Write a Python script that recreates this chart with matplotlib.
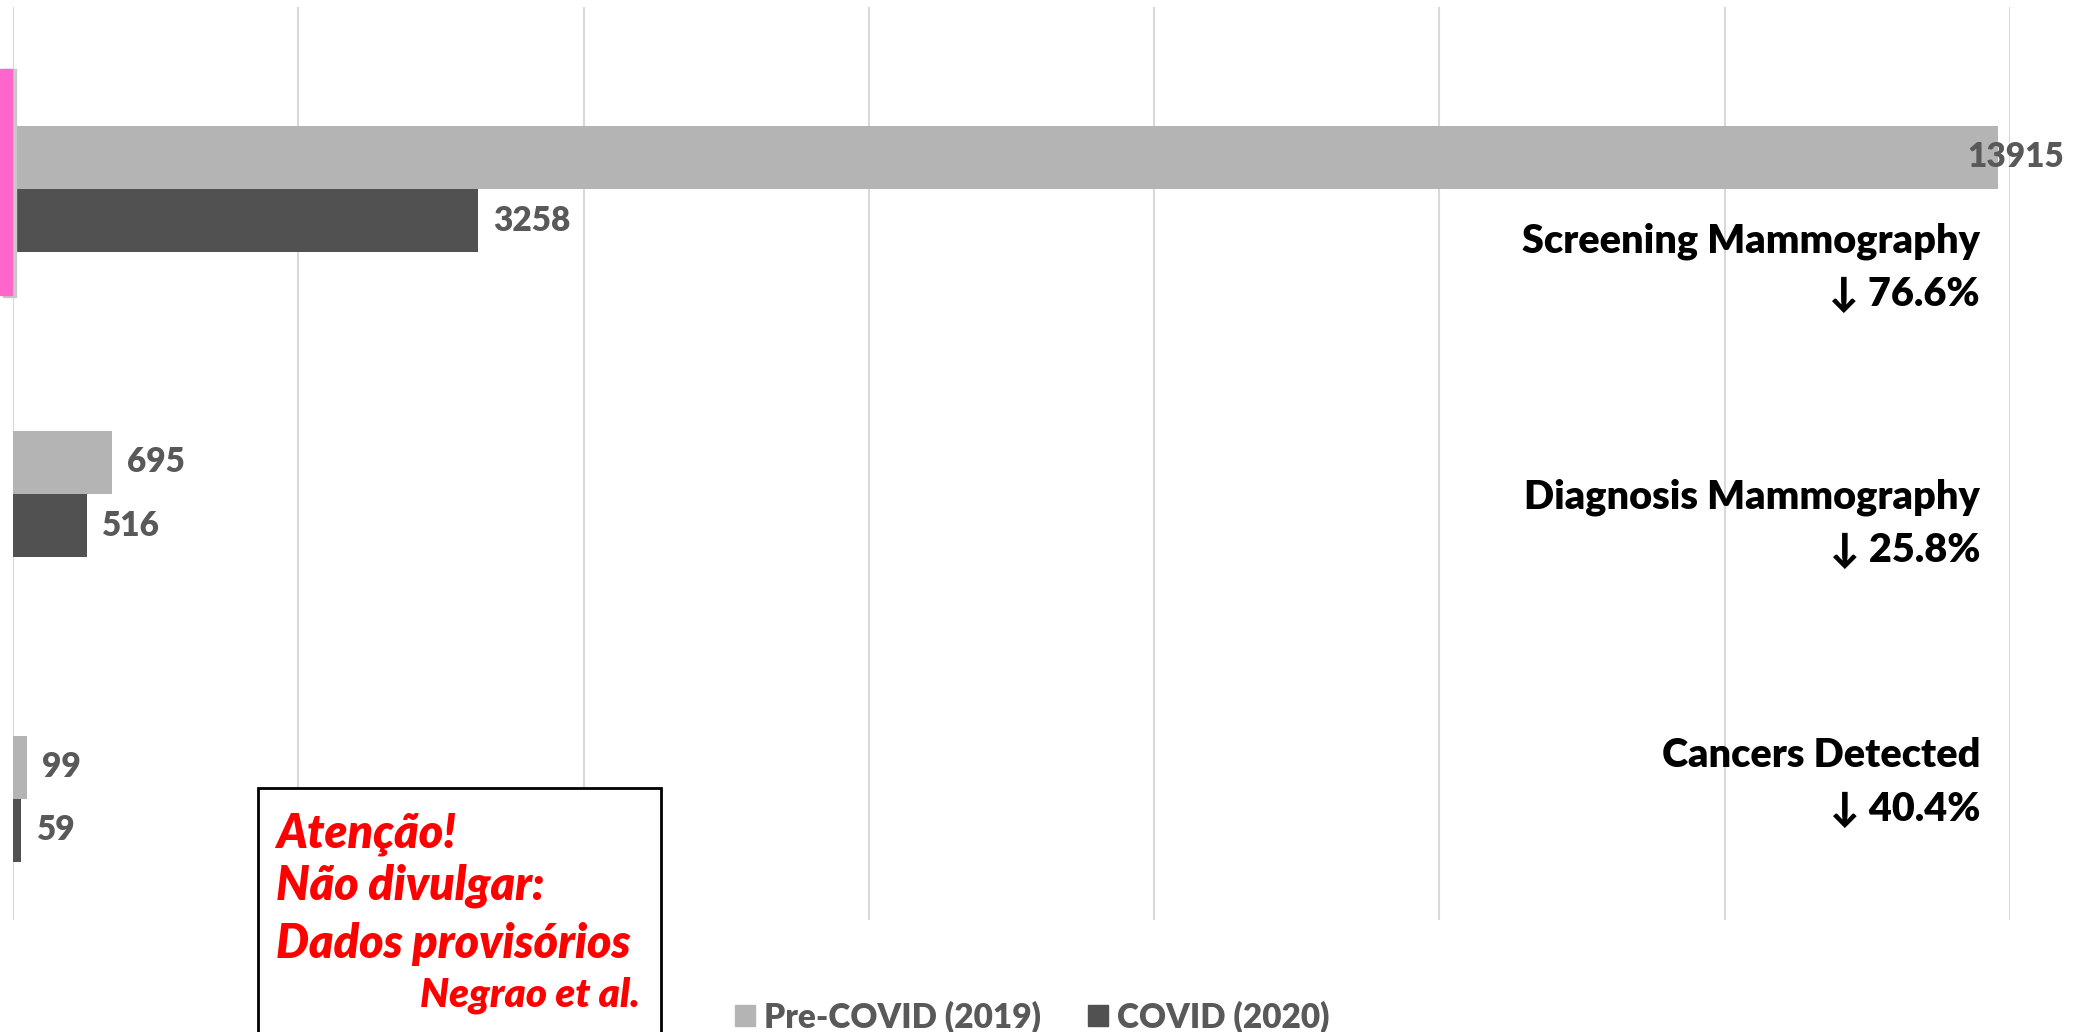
import matplotlib.pyplot as plt
from matplotlib.patches import Patch, Rectangle

# Chart values
categories = ['Screening Mammography', 'Diagnosis Mammography', 'Cancers Detected']
pre_covid = [13915, 695, 99]
covid = [3258, 516, 59]
changes = ['↓ 76.6%', '↓ 25.8%', '↓ 40.4%']
series_names = ['Pre-COVID (2019)', 'COVID (2020)']

light = '#b4b4b4'
dark = '#515151'
label_grey = '#595959'
fonts = ['Lato', 'DejaVu Sans']
plt.rcParams['font.family'] = fonts

W, H = 2073, 1032
fig = plt.figure(figsize=(W / 100, H / 100), dpi=100)
ax = fig.add_axes([13 / W, 1 - 920 / H, 1997 / W, 913 / H])

# Bars, category 0 at the top
pos = list(range(len(categories)))
h = 0.207
ax.barh([p - h / 2 for p in pos], pre_covid, height=h, color=light)
ax.barh([p + h / 2 for p in pos], covid, height=h, color=dark)
ax.set_xlim(0, 14000)
ax.set_ylim(2.397, -0.597)

# Grid and clean axes
ax.set_xticks(range(0, 14001, 2000))
ax.set_yticks([])
ax.xaxis.grid(True, color='#d9d9d9', linewidth=1.5)
ax.set_axisbelow(True)
ax.tick_params(axis='x', length=0, labelbottom=False)
for s in ax.spines.values():
    s.set_visible(False)

# Value labels at the end of each bar
for p, v in zip(pos, pre_covid):
    dx = -22 if v > 13000 else 11
    ax.annotate(str(v), (v, p - h / 2), xytext=(dx, 0), textcoords='offset points',
                ha='left', va='center', fontsize=24, fontweight='heavy', color=label_grey)
for p, v in zip(pos, covid):
    ax.annotate(str(v), (v, p + h / 2), xytext=(11, 0), textcoords='offset points',
                ha='left', va='center', fontsize=24, fontweight='heavy', color=label_grey)

# Category names with percent change, right side
name_y = [252, 508, 767]
for name, ch, y in zip(categories, changes, name_y):
    fig.text(1980 / W, 1 - y / H, name, ha='right', va='baseline',
             fontsize=28.5, fontweight='heavy', color='black')
    fig.text(1980 / W, 1 - (y + 54) / H, ch, ha='right', va='baseline',
             fontsize=28.5, fontweight='heavy', color='black')

# Pink marker on the left edge
fig.patches.append(Rectangle((3 / W, 1 - 297 / H), 13 / W, 228 / H,
                             transform=fig.transFigure, color='#c8c8c8', zorder=0))
fig.patches.append(Rectangle((0, 1 - 295 / H), 12 / W, 226 / H,
                             transform=fig.transFigure, color='#ff66cc', zorder=1))

# Warning box
fig.patches.append(Rectangle((258 / W, 1 - 1040 / H), 403 / W, 252 / H,
                             transform=fig.transFigure, facecolor='white',
                             edgecolor='black', linewidth=2, zorder=3))
box_lines = ['Atenção!', 'Não divulgar:', 'Dados provisórios']
box_y = [847, 900, 958]
for t, y in zip(box_lines, box_y):
    fig.text(276 / W, 1 - y / H, t, ha='left', va='baseline', fontsize=33.5,
             fontweight='heavy', fontstyle='italic', color='red', zorder=4)
fig.text(640 / W, 1 - 1007 / H, 'Negrao et al.', ha='right', va='baseline', fontsize=29,
         fontweight='heavy', fontstyle='italic', color='red', zorder=4)

# Legend at the bottom
handles = [Patch(color=light), Patch(color=dark)]
fig.legend(handles, series_names, loc='center', bbox_to_anchor=(1032 / W, 1 - 1017 / H),
           ncol=2, frameon=False, handlelength=0.6, handleheight=0.6,
           handletextpad=0.28, columnspacing=1.4, labelcolor=label_grey,
           prop={'weight': 'heavy', 'size': 24})

fig.savefig('out.png', dpi=100)
